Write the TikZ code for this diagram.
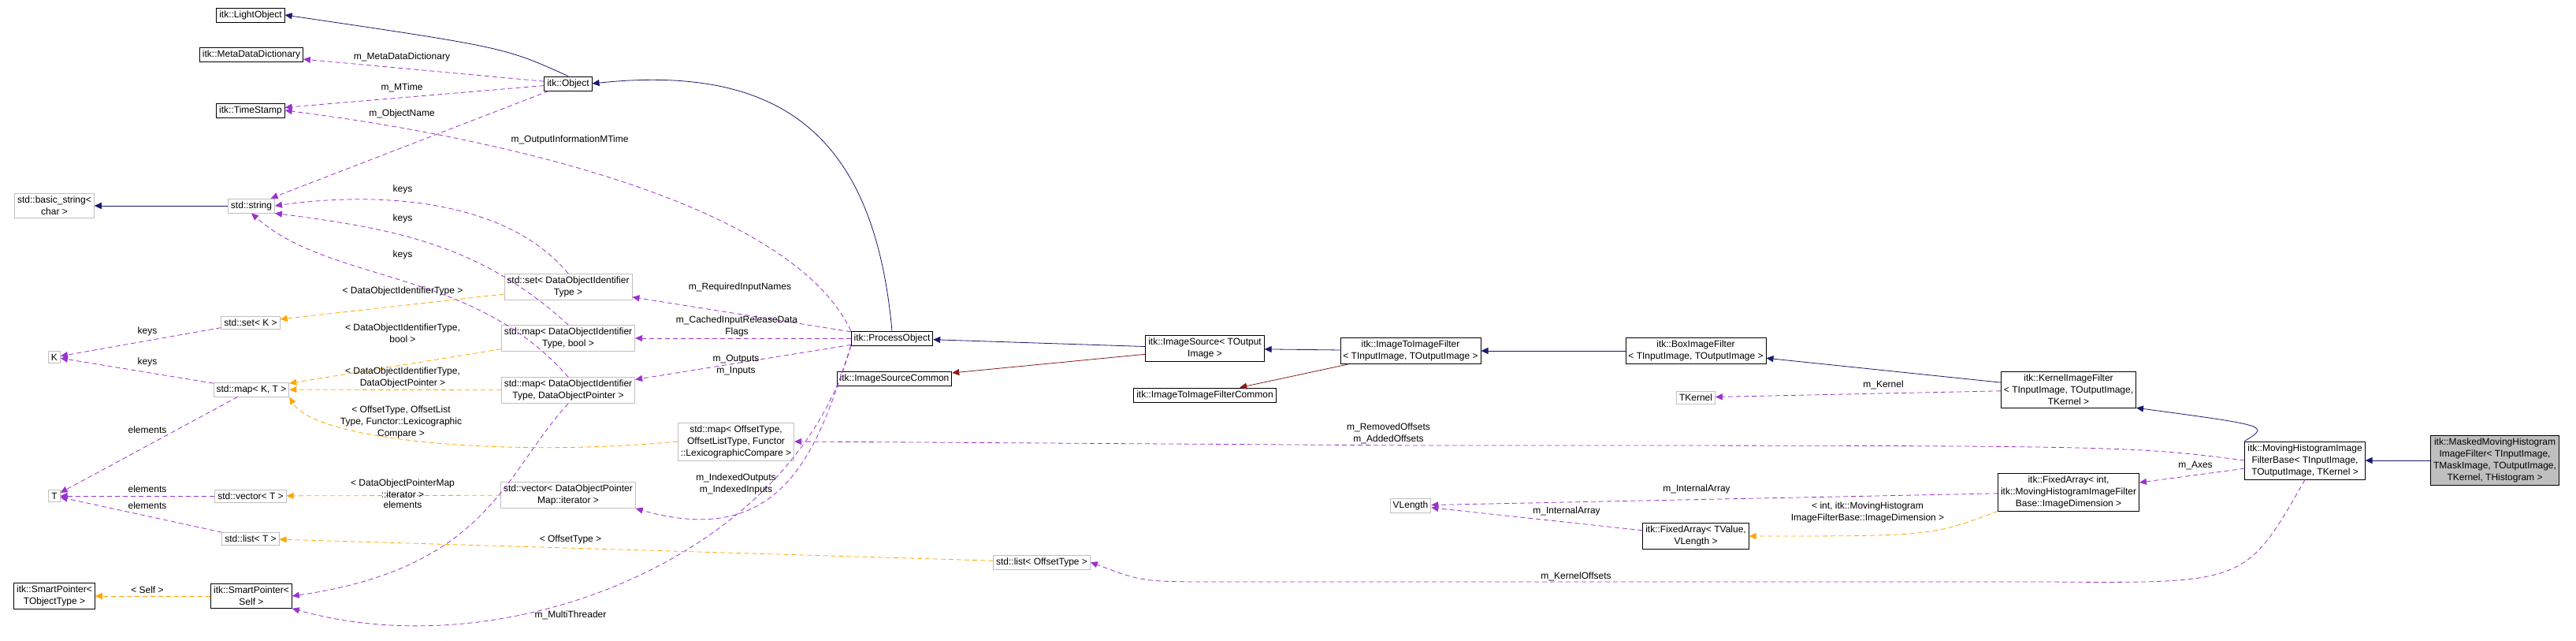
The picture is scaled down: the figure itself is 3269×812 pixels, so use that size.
\documentclass[tikz,border=0pt]{standalone}
\usepackage{fontspec}
\setmainfont{Liberation Sans}
\usetikzlibrary{arrows.meta}
\definecolor{inhcol}{HTML}{191970}
\definecolor{protcol}{HTML}{8B1A1A}
\definecolor{usecol}{HTML}{9A32CD}
\definecolor{tplcol}{HTML}{FFA500}
\definecolor{boxgray}{HTML}{BFBFBF}
\tikzset{
  cls/.style={draw=black, thick, fill=white, align=center, inner sep=3.5pt, font=\fontsize{12}{15}\selectfont},
  ext/.style={cls, draw=boxgray},
  focus/.style={cls, fill=boxgray},
  inh/.style={draw=inhcol, thick, -{Triangle[length=9pt,width=8pt]}},
  prot/.style={draw=protcol, thick, -{Triangle[length=9pt,width=8pt]}},
  use/.style={draw=usecol, thick, dashed, dash pattern=on 6pt off 4pt, -{Triangle[length=9pt,width=8pt]}},
  tpl/.style={draw=tplcol, thick, dashed, dash pattern=on 6pt off 4pt, -{Triangle[length=9pt,width=8pt]}},
  lbl/.style={align=center, inner sep=1pt, font=\fontsize{12}{15}\selectfont}
}
\begin{document}
\begin{tikzpicture}[x=1pt, y=-1pt]
    \useasboundingbox (0,0) rectangle (3269,812);

    % classes on the left
    \node[cls] (lightobj) at (318,19) {itk::LightObject};
    \node[cls] (metadict) at (319,69) {itk::MetaDataDictionary};
    \node[cls] (tstamp) at (318,140) {itk::TimeStamp};
    \node[cls] (object) at (721,106) {itk::Object};
    \node[ext] (bstring) at (69,261) {std::basic\_string\textless\\char \textgreater};
    \node[ext] (sstring) at (319,261) {std::string};
    \node[ext] (setdoit) at (721,364) {std::set\textless{} DataObjectIdentifier\\Type \textgreater};
    \node[ext] (setk) at (318,409) {std::set\textless{} K \textgreater};
    \node[ext] (kk) at (69,453) {K};
    \node[ext] (mapkt) at (319,494) {std::map\textless{} K, T \textgreater};
    \node[ext] (mapbool) at (721,429) {std::map\textless{} DataObjectIdentifier\\Type, bool \textgreater};
    \node[ext] (mapdop) at (721,495) {std::map\textless{} DataObjectIdentifier\\Type, DataObjectPointer \textgreater};
    \node[ext] (mapoff) at (934,560) {std::map\textless{} OffsetType,\\OffsetListType, Functor\\::LexicographicCompare \textgreater};
    \node[ext] (tt) at (69,629) {T};
    \node[ext] (vect) at (318,629) {std::vector\textless{} T \textgreater};
    \node[ext] (vecit) at (721,628) {std::vector\textless{} DataObjectPointer\\Map::iterator \textgreater};
    \node[ext] (listt) at (318,683) {std::list\textless{} T \textgreater};
    \node[cls] (sptobj) at (69,756) {itk::SmartPointer\textless\\TObjectType \textgreater};
    \node[cls] (sptself) at (319,756) {itk::SmartPointer\textless\\Self \textgreater};

    % pipeline classes
    \node[cls] (procobj) at (1132,429) {itk::ProcessObject};
    \node[cls] (srccommon) at (1135,480) {itk::ImageSourceCommon};
    \node[cls] (imgsrc) at (1529,442) {itk::ImageSource\textless{} TOutput\\Image \textgreater};
    \node[cls] (i2icommon) at (1529,501) {itk::ImageToImageFilterCommon};
    \node[cls] (i2i) at (1790,445) {itk::ImageToImageFilter\\\textless{} TInputImage, TOutputImage \textgreater};
    \node[cls] (boxflt) at (2152,445) {itk::BoxImageFilter\\\textless{} TInputImage, TOutputImage \textgreater};
    \node[ext] (tkernel) at (2152,504) {TKernel};
    \node[cls] (kernflt) at (2625,494) {itk::KernelImageFilter\\\textless{} TInputImage, TOutputImage,\\TKernel \textgreater};
    \node[cls] (movhist) at (2925,584) {itk::MovingHistogramImage\\FilterBase\textless{} TInputImage,\\TOutputImage, TKernel \textgreater};
    \node[focus] (masked) at (3166,584) {itk::MaskedMovingHistogram\\ImageFilter\textless{} TInputImage,\\TMaskImage, TOutputImage,\\TKernel, THistogram \textgreater};
    \node[cls] (farrint) at (2625,624) {itk::FixedArray\textless{} int,\\itk::MovingHistogramImageFilter\\Base::ImageDimension \textgreater};
    \node[cls] (farrval) at (2152,680) {itk::FixedArray\textless{} TValue,\\VLength \textgreater};
    \node[ext] (vlength) at (1790,641) {VLength};
    \node[ext] (listoff) at (1322,713) {std::list\textless{} OffsetType \textgreater};

    % inheritance
    \draw[inh] (object.north) .. controls (640,60) .. (lightobj.east);
    \draw[inh] (procobj.north) .. controls (1110,180) and (1000,80) .. (object.east);
    \draw[inh] (sstring) -- (bstring);
    \draw[inh] (imgsrc) -- (procobj);
    \draw[prot] (imgsrc) -- (srccommon);
    \draw[inh] (i2i) -- (imgsrc);
    \draw[prot] (i2i) -- (i2icommon);
    \draw[inh] (boxflt) -- (i2i);
    \draw[inh] (kernflt) -- (boxflt);
    \draw[inh] (movhist.north west) .. controls (2880,540) .. (kernflt.south east);
    \draw[inh] (masked) -- (movhist);

    % usage
    \draw[use] (object) -- (metadict);
    \draw[use] (object) -- (tstamp);
    \draw[use] (object) -- (sstring);
    \draw[use] (procobj.north west) .. controls (1000,250) and (600,170) .. (tstamp.east);
    \draw[use] (setdoit.north) .. controls (650,260) and (500,240) .. (sstring.east);
    \draw[use] (mapbool.north) .. controls (610,310) and (500,290) .. (sstring.south east);
    \draw[use] (mapdop.north) .. controls (600,340) and (420,360) .. (sstring.south);
    \draw[use] (setk) -- (kk);
    \draw[use] (mapkt) -- (kk);
    \draw[use] (mapkt) -- (tt);
    \draw[use] (vect) -- (tt);
    \draw[use] (listt) -- (tt);
    \draw[use] (mapdop.south) .. controls (640,600) and (620,720) .. (sptself.east);
    \draw[use] (procobj) -- (setdoit);
    \draw[use] (procobj) -- (mapbool);
    \draw[use] (procobj) -- (mapdop);
    \draw[use] (procobj.south west) .. controls (1040,560) and (1000,700) .. (vecit.south east);
    \draw[use] (procobj.south west) .. controls (1010,700) and (650,850) .. (sptself.south east);
    \draw[use] (movhist.west) .. controls (2700,565) .. (1800,565) -- (mapoff.east);
    \draw[use] (movhist.south) .. controls (2850,740) .. (2600,738) -- (1550,738) .. controls (1450,738) .. (listoff.east);
    \draw[use] (kernflt) -- (tkernel);
    \draw[use] (movhist) -- (farrint);
    \draw[use] (farrint) -- (vlength);
    \draw[use] (farrval) -- (vlength);

    % template instances
    \draw[tpl] (setdoit) -- (setk);
    \draw[tpl] (mapbool) -- (mapkt);
    \draw[tpl] (mapdop) -- (mapkt);
    \draw[tpl] (mapoff.west) .. controls (650,580) and (400,560) .. (mapkt.south east);
    \draw[tpl] (vecit) -- (vect);
    \draw[tpl] (sptself) -- (sptobj);
    \draw[tpl] (listoff) -- (listt);
    \draw[tpl] (farrint.south west) .. controls (2450,680) .. (farrval.east);

    % labels
    \node[lbl] (l1) at (510,72) {m\_MetaDataDictionary};
    \node[lbl] (l2) at (510,111) {m\_MTime};
    \node[lbl] (l3) at (510,144) {m\_ObjectName};
    \node[lbl] (l4) at (723,177) {m\_OutputInformationMTime};
    \node[lbl] (l5) at (511,240) {keys};
    \node[lbl] (l6) at (511,277) {keys};
    \node[lbl] (l7) at (511,323) {keys};
    \node[lbl] (l8) at (511,369) {\textless{} DataObjectIdentifierType \textgreater};
    \node[lbl] (l9) at (187,420) {keys};
    \node[lbl] (l10) at (187,459) {keys};
    \node[lbl] (l11) at (511,423) {\textless{} DataObjectIdentifierType,\\bool \textgreater};
    \node[lbl] (l12) at (511,479) {\textless{} DataObjectIdentifierType,\\DataObjectPointer \textgreater};
    \node[lbl] (l13) at (509,535) {\textless{} OffsetType, OffsetList\\Type, Functor::Lexicographic\\Compare \textgreater};
    \node[lbl] (l14) at (187,545) {elements};
    \node[lbl] (l15) at (187,620) {elements};
    \node[lbl] (l16) at (187,641) {elements};
    \node[lbl] (l17) at (511,620) {\textless{} DataObjectPointerMap\\::iterator \textgreater};
    \node[lbl] (l18) at (511,640) {elements};
    \node[lbl] (l19) at (187,748) {\textless{} Self \textgreater};
    \node[lbl] (l20) at (939,364) {m\_RequiredInputNames};
    \node[lbl] (l21) at (935,414) {m\_CachedInputReleaseData\\Flags};
    \node[lbl] (l22) at (934,463) {m\_Outputs\\m\_Inputs};
    \node[lbl] (l23) at (934,614) {m\_IndexedOutputs\\m\_IndexedInputs};
    \node[lbl] (l24) at (724,780) {m\_MultiThreader};
    \node[lbl] (l25) at (724,684) {\textless{} OffsetType \textgreater};
    \node[lbl] (l26) at (1762,550) {m\_RemovedOffsets\\m\_AddedOffsets};
    \node[lbl] (l27) at (2000,731) {m\_KernelOffsets};
    \node[lbl] (l28) at (2390,488) {m\_Kernel};
    \node[lbl] (l29) at (2786,591) {m\_Axes};
    \node[lbl] (l30) at (2153,620) {m\_InternalArray};
    \node[lbl] (l31) at (1988,648) {m\_InternalArray};
    \node[lbl] (l32) at (2370,650) {\textless{} int, itk::MovingHistogram\\ImageFilterBase::ImageDimension \textgreater};
\end{tikzpicture}
\end{document}
